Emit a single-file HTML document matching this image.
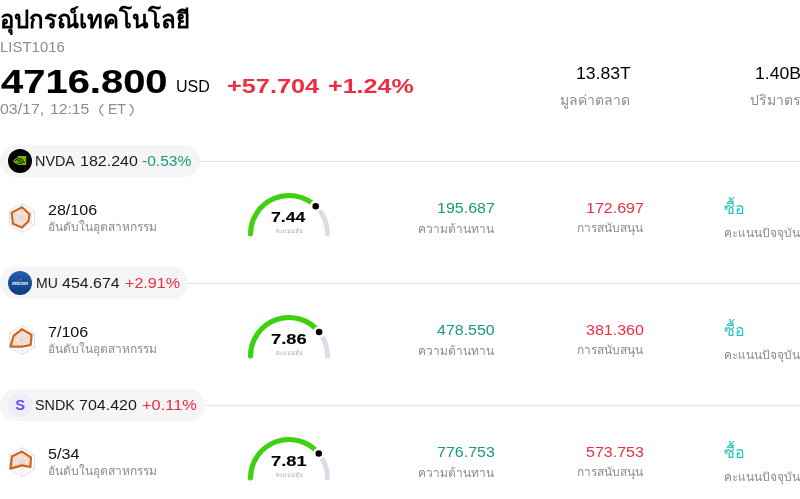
<!DOCTYPE html>
<html><head><meta charset="utf-8">
<style>
*{margin:0;padding:0;box-sizing:border-box}
html,body{width:800px;height:499px;overflow:hidden;background:#fff}
body{font-family:"Liberation Sans",sans-serif;color:#000;position:relative}
.a{position:absolute;white-space:nowrap;line-height:1;transform-origin:0 0;will-change:transform}
.g{color:#199a80}.r{color:#ee2d42}
.chip{position:absolute;left:0;height:32px;border-radius:16px;background:#f5f5f6}
.hline{position:absolute;height:1px;background:#e2e2ea;right:0}
</style></head><body>
<div class="chip" style="top:145px;width:200px"></div>
<div class="hline" style="left:200px;top:161px"></div>
<div class="chip" style="top:267px;width:188px"></div>
<div class="hline" style="left:188px;top:283px"></div>
<div class="chip" style="top:389px;width:205px"></div>
<div class="hline" style="left:205px;top:405px"></div>
<svg style="position:absolute;left:8px;top:149px" width="24" height="24" viewBox="0 0 24 24">
<circle cx="12" cy="12" r="12" fill="#000"/>
<path d="M9.6 8.6 L9.8 7.1 L18.2 7.1 L18.2 16 L9.8 16 L9.8 15.2 C7.6 14.6 5.9 13.4 5 12.2 C6 10.6 7.6 9.3 9.6 8.6Z" fill="#72b400"/>
<path d="M6.6 12.3 C8 10.3 10.6 9.4 12.8 9.9 C14.8 10.4 15.8 11.9 15.2 13.1 C14.2 14.3 11.6 14.6 9.6 14" fill="none" stroke="#000" stroke-width="0.95"/>
<path d="M8.9 12.6 C9.8 11.5 11.6 11.2 12.7 11.9 C13.4 12.4 13.2 13 12.3 13.2" fill="none" stroke="#000" stroke-width="0.85"/>
<path d="M15.2 13.1 C16 13.6 16.8 13.4 17.2 12.9" fill="none" stroke="#000" stroke-width="0.7"/>
</svg><svg style="position:absolute;left:8px;top:271px" width="24" height="24" viewBox="0 0 24 24">
<defs><linearGradient id="mug" x1="0" y1="0" x2="0" y2="1"><stop offset="0" stop-color="#2160ae"/><stop offset="1" stop-color="#0f3b7f"/></linearGradient></defs>
<circle cx="12" cy="12" r="12" fill="url(#mug)"/>
<text x="11.9" y="14.4" font-family="Liberation Sans" font-size="5.2" font-weight="bold" font-style="italic" fill="#fff" text-anchor="middle" textLength="16" lengthAdjust="spacingAndGlyphs">micron</text>
<circle cx="12.4" cy="8.7" r="0.5" fill="#fff"/>
</svg><svg style="position:absolute;left:8px;top:393px" width="24" height="24" viewBox="0 0 24 24">
<circle cx="12" cy="12" r="12" fill="#ededfc"/>
<text x="12" y="17.2" font-family="Liberation Sans" font-size="14.5" font-weight="bold" fill="#6b4fe6" text-anchor="middle">S</text>
</svg>
<svg style="position:absolute;left:0;top:0" width="800" height="499">
<path d="M103.4 104.2 Q96.2 110 103.4 115.9" fill="none" stroke="#8c8c8c" stroke-width="1.15"/>
<path d="M129.6 104.2 Q136.8 110 129.6 115.9" fill="none" stroke="#8c8c8c" stroke-width="1.15"/>
</svg>
<svg style="position:absolute;left:0.00px;top:195.60px" width="44" height="44" viewBox="-22 -22 44 44">
<polygon points="0.00,-14.40 12.47,-7.20 12.47,7.20 0.00,14.40 -12.47,7.20 -12.47,-7.20" fill="none" stroke="#dadaea" stroke-width="0.9"/><polygon points="0.00,-10.80 9.35,-5.40 9.35,5.40 0.00,10.80 -9.35,5.40 -9.35,-5.40" fill="none" stroke="#dadaea" stroke-width="0.7"/><polygon points="0.00,-7.20 6.24,-3.60 6.24,3.60 0.00,7.20 -6.24,3.60 -6.24,-3.60" fill="none" stroke="#dadaea" stroke-width="0.7"/><polygon points="0.00,-3.60 3.12,-1.80 3.12,1.80 0.00,3.60 -3.12,1.80 -3.12,-1.80" fill="none" stroke="#dadaea" stroke-width="0.7"/>
<path d="M0,-14.4V14.4M-12.47,-7.2L12.47,7.2M-12.47,7.2L12.47,-7.2" stroke="#dadaea" stroke-width="0.7"/>
<polygon points="0.00,-10.80 7.60,-3.70 6.50,3.20 0.00,9.50 -9.10,5.70 -10.20,-5.40" fill="rgba(232,150,90,0.22)" stroke="#cd661c" stroke-width="2.2" stroke-linejoin="round"/>
</svg>
<svg style="position:absolute;left:0.00px;top:317.60px" width="44" height="44" viewBox="-22 -22 44 44">
<polygon points="0.00,-14.40 12.47,-7.20 12.47,7.20 0.00,14.40 -12.47,7.20 -12.47,-7.20" fill="none" stroke="#dadaea" stroke-width="0.9"/><polygon points="0.00,-10.80 9.35,-5.40 9.35,5.40 0.00,10.80 -9.35,5.40 -9.35,-5.40" fill="none" stroke="#dadaea" stroke-width="0.7"/><polygon points="0.00,-7.20 6.24,-3.60 6.24,3.60 0.00,7.20 -6.24,3.60 -6.24,-3.60" fill="none" stroke="#dadaea" stroke-width="0.7"/><polygon points="0.00,-3.60 3.12,-1.80 3.12,1.80 0.00,3.60 -3.12,1.80 -3.12,-1.80" fill="none" stroke="#dadaea" stroke-width="0.7"/>
<path d="M0,-14.4V14.4M-12.47,-7.2L12.47,7.2M-12.47,7.2L12.47,-7.2" stroke="#dadaea" stroke-width="0.7"/>
<polygon points="0.00,-10.80 9.60,-5.20 8.60,5.00 0.00,6.60 -11.50,6.60 -8.40,-4.10" fill="rgba(232,150,90,0.22)" stroke="#cd661c" stroke-width="2.2" stroke-linejoin="round"/>
</svg>
<svg style="position:absolute;left:0.00px;top:439.60px" width="44" height="44" viewBox="-22 -22 44 44">
<polygon points="0.00,-14.40 12.47,-7.20 12.47,7.20 0.00,14.40 -12.47,7.20 -12.47,-7.20" fill="none" stroke="#dadaea" stroke-width="0.9"/><polygon points="0.00,-10.80 9.35,-5.40 9.35,5.40 0.00,10.80 -9.35,5.40 -9.35,-5.40" fill="none" stroke="#dadaea" stroke-width="0.7"/><polygon points="0.00,-7.20 6.24,-3.60 6.24,3.60 0.00,7.20 -6.24,3.60 -6.24,-3.60" fill="none" stroke="#dadaea" stroke-width="0.7"/><polygon points="0.00,-3.60 3.12,-1.80 3.12,1.80 0.00,3.60 -3.12,1.80 -3.12,-1.80" fill="none" stroke="#dadaea" stroke-width="0.7"/>
<path d="M0,-14.4V14.4M-12.47,-7.2L12.47,7.2M-12.47,7.2L12.47,-7.2" stroke="#dadaea" stroke-width="0.7"/>
<polygon points="0.00,-10.40 9.00,-4.40 8.30,5.00 0.00,3.40 -11.50,6.60 -10.10,-5.40" fill="rgba(232,150,90,0.22)" stroke="#cd661c" stroke-width="2.2" stroke-linejoin="round"/>
</svg>
<svg style="position:absolute;left:0;top:0;overflow:visible" width="800" height="499">
<path d="M250.50 234.00 A38.5 38.5 0 0 1 327.50 234.00" fill="none" stroke="#dcdce7" stroke-width="5" stroke-linecap="round"/>
<path d="M250.50 234.00 A38.5 38.5 0 0 1 315.71 206.27" fill="none" stroke="#3dd20c" stroke-width="5" stroke-linecap="round"/>
<circle cx="315.71" cy="206.27" r="4.6" fill="#000" stroke="#fff" stroke-width="2.6"/>
</svg>
<svg style="position:absolute;left:0;top:0;overflow:visible" width="800" height="499">
<path d="M250.50 356.00 A38.5 38.5 0 0 1 327.50 356.00" fill="none" stroke="#dcdce7" stroke-width="5" stroke-linecap="round"/>
<path d="M250.50 356.00 A38.5 38.5 0 0 1 319.12 332.02" fill="none" stroke="#3dd20c" stroke-width="5" stroke-linecap="round"/>
<circle cx="319.12" cy="332.02" r="4.6" fill="#000" stroke="#fff" stroke-width="2.6"/>
</svg>
<svg style="position:absolute;left:0;top:0;overflow:visible" width="800" height="499">
<path d="M250.50 478.00 A38.5 38.5 0 0 1 327.50 478.00" fill="none" stroke="#dcdce7" stroke-width="5" stroke-linecap="round"/>
<path d="M250.50 478.00 A38.5 38.5 0 0 1 318.74 453.55" fill="none" stroke="#3dd20c" stroke-width="5" stroke-linecap="round"/>
<circle cx="318.74" cy="453.55" r="4.6" fill="#000" stroke="#fff" stroke-width="2.6"/>
</svg>
<div class="a" id="title" style="font-size:24px;font-weight:bold;color:#000;left:0.00px;top:8.00px;transform:scale(1.0000,1.0000);">อุปกรณ์เทคโนโลยี</div>
<div class="a" id="code" style="font-size:14px;font-weight:normal;color:#8c8c8c;left:-0.07px;top:40.00px;transform:scale(1.0678,1.0000);">LIST1016</div>
<div class="a" id="price" style="font-size:32px;font-weight:bold;color:#000;-webkit-text-stroke:0.15px #000;left:1.00px;top:64.77px;transform:scale(1.2481,1.0455);">4716.800</div>
<div class="a" id="usd" style="font-size:16px;font-weight:normal;color:#000;left:176.00px;top:79.00px;transform:scale(1.0000,1.0000);">USD</div>
<div class="a" id="chgA" style="font-size:20px;font-weight:bold;color:#ee2d42;left:226.74px;top:76.00px;transform:scale(1.2639,1.0000);">+57.704</div>
<div class="a" id="chgB" style="font-size:20px;font-weight:bold;color:#ee2d42;left:327.75px;top:76.00px;transform:scale(1.2537,1.0000);">+1.24%</div>
<div class="a" id="timeA" style="font-size:14px;font-weight:normal;color:#8c8c8c;left:-0.14px;top:102.00px;transform:scale(1.1351,1.0000);">03/17,</div>
<div class="a" id="timeB" style="font-size:14px;font-weight:normal;color:#8c8c8c;left:49.88px;top:102.00px;transform:scale(1.1212,1.0000);">12:15</div>
<div class="a" id="tet" style="font-size:14px;font-weight:normal;color:#8c8c8c;left:108.00px;top:102.00px;transform:scale(1.0000,1.0000);">ET</div>
<div class="a" id="mcap" style="font-size:16px;font-weight:normal;color:#000;left:575.67px;top:66.00px;transform:scale(1.1020,1.0000);">13.83T</div>
<div class="a" id="mcapl" style="font-size:14px;font-weight:normal;color:#8c8c8c;left:560.00px;top:92.59px;transform:scale(1.0000,1.0000);">มูลค่าตลาด</div>
<div class="a" id="vol" style="font-size:16px;font-weight:normal;color:#000;left:754.90px;top:66.00px;transform:scale(1.1000,1.0000);">1.40B</div>
<div class="a" id="voll" style="font-size:14px;font-weight:normal;color:#8c8c8c;left:750.00px;top:92.59px;transform:scale(1.0000,1.0000);">ปริมาตร</div>
<div class="a" id="symA0" style="font-size:14px;font-weight:normal;color:#1a1a1a;left:35.46px;top:154.00px;transform:scale(1.0263,1.0000);">NVDA</div>
<div class="a" id="symB0" style="font-size:14px;font-weight:normal;color:#1a1a1a;left:80.29px;top:154.00px;transform:scale(1.1429,1.0000);">182.240</div>
<div class="a g" id="symC0" style="font-size:14px;font-weight:normal;left:142.44px;top:154.00px;transform:scale(1.1136,1.0000);">-0.53%</div>
<div class="a" id="rank0" style="font-size:14px;font-weight:normal;color:#111;left:47.85px;top:203.00px;transform:scale(1.1463,1.0000);">28/106</div>
<div class="a" id="rankl0" style="font-size:12px;font-weight:normal;color:#8c8c8c;left:48.00px;top:221.00px;transform:scale(1.0000,1.0000);">อันดับในอุตสาหกรรม</div>
<div class="a" id="score0" style="font-size:14px;font-weight:bold;color:#000;-webkit-text-stroke:0.1px #000;left:271.21px;top:210.00px;transform:scale(1.2593,1.0000);">7.44</div>
<div class="a" id="scorel0" style="font-size:5.5px;font-weight:normal;color:#a8a8a8;left:276.30px;top:229.00px;transform:scale(1.0000,1.0000);">คะแนนหุ้น</div>
<div class="a" id="res0" style="font-size:14px;font-weight:normal;color:#199a80;left:437.30px;top:201.00px;transform:scale(1.1429,1.0000);">195.687</div>
<div class="a" id="resl0" style="font-size:12px;font-weight:normal;color:#8c8c8c;left:418.00px;top:222.50px;transform:scale(1.0000,1.0000);">ความต้านทาน</div>
<div class="a" id="sup0" style="font-size:14px;font-weight:normal;color:#ee2d42;left:585.73px;top:201.00px;transform:scale(1.1429,1.0000);">172.697</div>
<div class="a" id="supl0" style="font-size:12px;font-weight:normal;color:#8c8c8c;left:577.00px;top:222.00px;transform:scale(1.0000,1.0000);">การสนับสนุน</div>
<div class="a" id="buy0" style="font-size:16px;font-weight:normal;color:#27c3bd;left:724.00px;top:201.00px;transform:scale(1.0000,1.0000);">ซื้อ</div>
<div class="a" id="buyl0" style="font-size:12px;font-weight:normal;color:#8c8c8c;left:724.00px;top:227.00px;transform:scale(1.0000,1.0000);">คะแนนปัจจุบัน</div>
<div class="a" id="symA1" style="font-size:14px;font-weight:normal;color:#1a1a1a;left:35.50px;top:276.00px;transform:scale(1.0000,1.0000);">MU</div>
<div class="a" id="symB1" style="font-size:14px;font-weight:normal;color:#1a1a1a;left:62.43px;top:276.00px;transform:scale(1.1400,1.0000);">454.674</div>
<div class="a r" id="symC1" style="font-size:14px;font-weight:normal;left:125.28px;top:276.00px;transform:scale(1.1489,1.0000);">+2.91%</div>
<div class="a" id="rank1" style="font-size:14px;font-weight:normal;color:#111;left:47.85px;top:325.00px;transform:scale(1.1471,1.0000);">7/106</div>
<div class="a" id="rankl1" style="font-size:12px;font-weight:normal;color:#8c8c8c;left:48.00px;top:343.00px;transform:scale(1.0000,1.0000);">อันดับในอุตสาหกรรม</div>
<div class="a" id="score1" style="font-size:14px;font-weight:bold;color:#000;-webkit-text-stroke:0.1px #000;left:271.18px;top:332.00px;transform:scale(1.3077,1.0000);">7.86</div>
<div class="a" id="scorel1" style="font-size:5.5px;font-weight:normal;color:#a8a8a8;left:276.30px;top:351.00px;transform:scale(1.0000,1.0000);">คะแนนหุ้น</div>
<div class="a" id="res1" style="font-size:14px;font-weight:normal;color:#199a80;left:437.45px;top:323.00px;transform:scale(1.1400,1.0000);">478.550</div>
<div class="a" id="resl1" style="font-size:12px;font-weight:normal;color:#8c8c8c;left:418.00px;top:344.50px;transform:scale(1.0000,1.0000);">ความต้านทาน</div>
<div class="a" id="sup1" style="font-size:14px;font-weight:normal;color:#ee2d42;left:585.73px;top:323.00px;transform:scale(1.1429,1.0000);">381.360</div>
<div class="a" id="supl1" style="font-size:12px;font-weight:normal;color:#8c8c8c;left:577.00px;top:344.00px;transform:scale(1.0000,1.0000);">การสนับสนุน</div>
<div class="a" id="buy1" style="font-size:16px;font-weight:normal;color:#27c3bd;left:724.00px;top:323.00px;transform:scale(1.0000,1.0000);">ซื้อ</div>
<div class="a" id="buyl1" style="font-size:12px;font-weight:normal;color:#8c8c8c;left:724.00px;top:349.00px;transform:scale(1.0000,1.0000);">คะแนนปัจจุบัน</div>
<div class="a" id="symA2" style="font-size:14px;font-weight:normal;color:#1a1a1a;left:35.46px;top:398.00px;transform:scale(1.0270,1.0000);">SNDK</div>
<div class="a" id="symB2" style="font-size:14px;font-weight:normal;color:#1a1a1a;left:79.29px;top:398.00px;transform:scale(1.1429,1.0000);">704.420</div>
<div class="a r" id="symC2" style="font-size:14px;font-weight:normal;left:142.24px;top:398.00px;transform:scale(1.1739,1.0000);">+0.11%</div>
<div class="a" id="rank2" style="font-size:14px;font-weight:normal;color:#111;left:47.85px;top:447.00px;transform:scale(1.1538,1.0000);">5/34</div>
<div class="a" id="rankl2" style="font-size:12px;font-weight:normal;color:#8c8c8c;left:48.00px;top:465.00px;transform:scale(1.0000,1.0000);">อันดับในอุตสาหกรรม</div>
<div class="a" id="score2" style="font-size:14px;font-weight:bold;color:#000;-webkit-text-stroke:0.1px #000;left:271.18px;top:454.00px;transform:scale(1.3077,1.0000);">7.81</div>
<div class="a" id="scorel2" style="font-size:5.5px;font-weight:normal;color:#a8a8a8;left:276.30px;top:473.00px;transform:scale(1.0000,1.0000);">คะแนนหุ้น</div>
<div class="a" id="res2" style="font-size:14px;font-weight:normal;color:#199a80;left:437.30px;top:445.00px;transform:scale(1.1429,1.0000);">776.753</div>
<div class="a" id="resl2" style="font-size:12px;font-weight:normal;color:#8c8c8c;left:418.00px;top:466.50px;transform:scale(1.0000,1.0000);">ความต้านทาน</div>
<div class="a" id="sup2" style="font-size:14px;font-weight:normal;color:#ee2d42;left:585.73px;top:445.00px;transform:scale(1.1429,1.0000);">573.753</div>
<div class="a" id="supl2" style="font-size:12px;font-weight:normal;color:#8c8c8c;left:577.00px;top:466.00px;transform:scale(1.0000,1.0000);">การสนับสนุน</div>
<div class="a" id="buy2" style="font-size:16px;font-weight:normal;color:#27c3bd;left:724.00px;top:445.00px;transform:scale(1.0000,1.0000);">ซื้อ</div>
<div class="a" id="buyl2" style="font-size:12px;font-weight:normal;color:#8c8c8c;left:724.00px;top:471.00px;transform:scale(1.0000,1.0000);">คะแนนปัจจุบัน</div>
</body></html>
